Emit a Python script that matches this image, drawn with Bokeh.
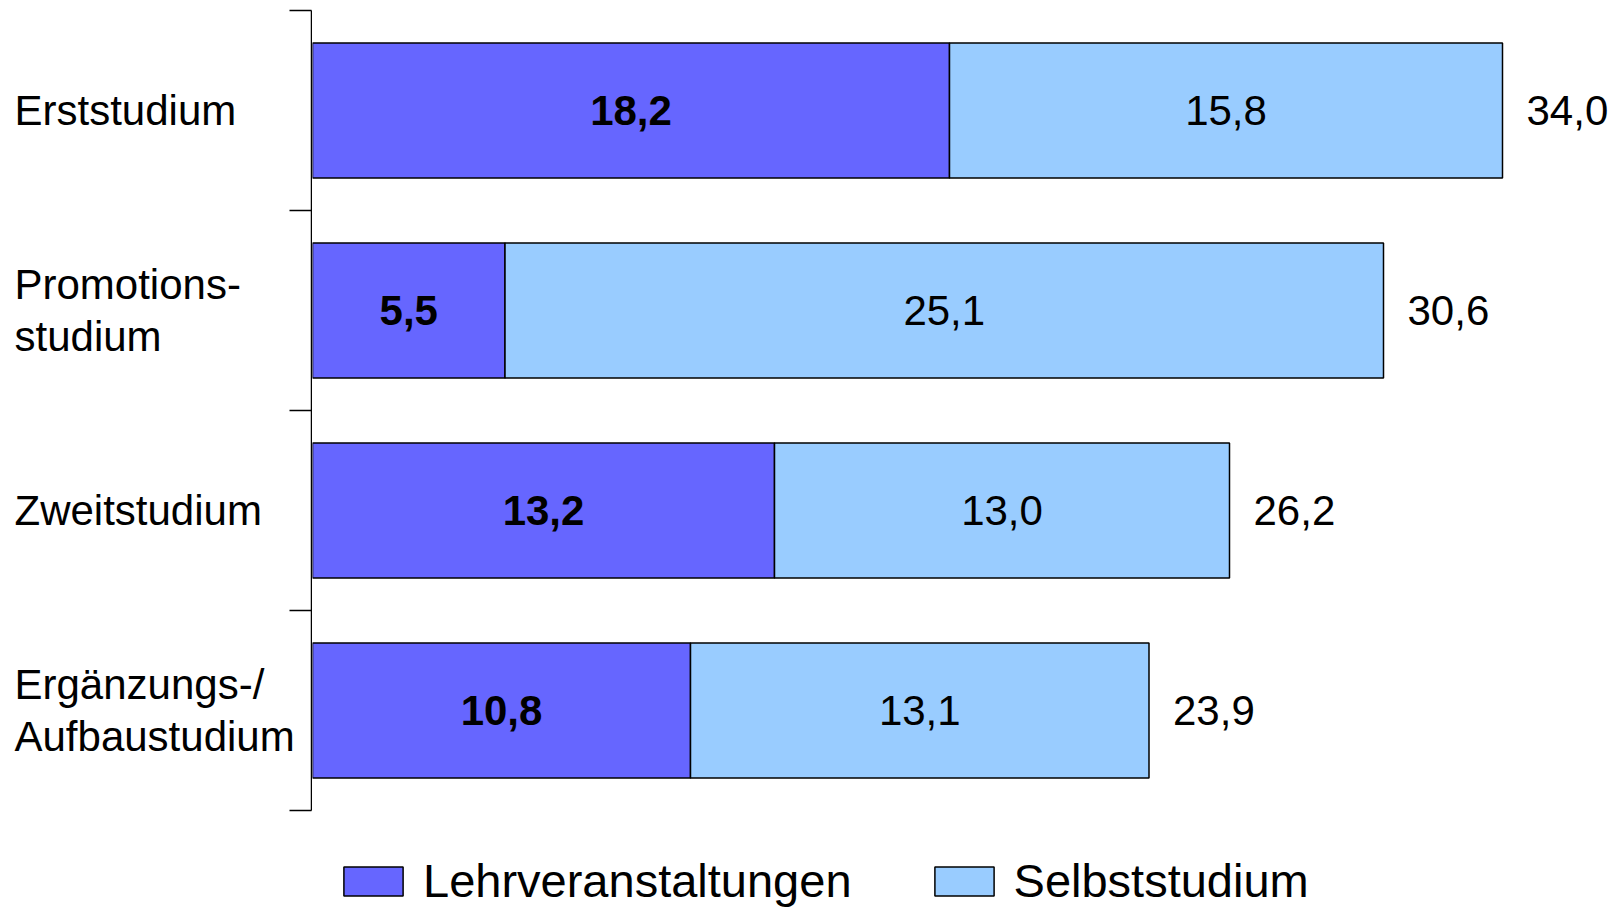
from bokeh.plotting import figure
from bokeh.layouts import row
from bokeh.models import ColumnDataSource, Range1d, LinearAxis, FixedTicker
from bokeh.core.properties import value
from bokeh.embed import file_html
from bokeh.resources import INLINE

# Weekly hours by type of study
categories = ["Erststudium", "Promotions-\nstudium", "Zweitstudium", "Ergänzungs-/\nAufbaustudium"]
lehrveranstaltungen = [18.2, 5.5, 13.2, 10.8]
selbststudium = [15.8, 25.1, 13.0, 13.1]
totals = [34.0, 30.6, 26.2, 23.9]
series_names = ["Lehrveranstaltungen", "Selbststudium"]
series_colors = ["#6666FF", "#99CCFF"]

FONT = "Liberation Sans"
TOTAL_W, TOTAL_H = 1614, 908
LABEL_W = 312


def de(v):
    return f"{v:.1f}".replace(".", ",")


ypos = [i + 0.5 for i in range(len(categories))]
src = ColumnDataSource(dict(
    y=ypos,
    cat=categories,
    lehr=lehrveranstaltungen,
    selbst=selbststudium,
    total=totals,
    lehr_mid=[v / 2 for v in lehrveranstaltungen],
    selbst_mid=[a + b / 2 for a, b in zip(lehrveranstaltungen, selbststudium)],
    lehr_txt=[de(v) for v in lehrveranstaltungen],
    selbst_txt=[de(v) for v in selbststudium],
    total_txt=[de(v) for v in totals],
))

y_range = Range1d(4.49, -0.04)

# left panel: category names and the category axis
lab = figure(
    width=LABEL_W, height=TOTAL_H,
    x_range=Range1d(0, LABEL_W - 1), y_range=y_range,
    x_axis_location=None, y_axis_location=None,
    toolbar_location=None, output_backend="svg",
    min_border_left=0, min_border_right=1, min_border_top=2, min_border_bottom=0,
)
lab.outline_line_color = None
lab.grid.visible = False

yaxis = LinearAxis(
    ticker=FixedTicker(ticks=[], minor_ticks=[0, 1, 2, 3, 4]),
    bounds=(0, 4),
    axis_line_color="black", axis_line_width=1.5,
    major_tick_line_color=None, major_tick_out=0, major_tick_in=0,
    minor_tick_in=22, minor_tick_out=0, minor_tick_line_width=1.5,
    minor_tick_line_color="black",
    major_label_standoff=0,
)
lab.add_layout(yaxis, "right")

lab.text(x=14, y="y", text="cat", source=src,
         text_align="left", text_baseline="middle", text_font=value(FONT),
         text_font_size="42px", text_line_height=1.1, text_color="black")

# right panel: stacked bars
p = figure(
    width=TOTAL_W - LABEL_W, height=TOTAL_H,
    x_range=Range1d(0, 37.2), y_range=y_range,
    x_axis_location=None, y_axis_location=None,
    toolbar_location=None, output_backend="svg",
    min_border_left=0, min_border_right=0, min_border_top=2, min_border_bottom=0,
)
p.outline_line_color = None
p.grid.visible = False

p.hbar_stack(
    ["lehr", "selbst"], y="y", height=0.675, source=src,
    fill_color=series_colors, line_color="black", line_width=1.5,
    legend_label=series_names,
)

p.text(x="lehr_mid", y="y", text="lehr_txt", source=src,
       text_align="center", text_baseline="middle", text_font=value(FONT),
       text_font_size="42px", text_font_style="bold", text_color="black")
p.text(x="selbst_mid", y="y", text="selbst_txt", source=src,
       text_align="center", text_baseline="middle", text_font=value(FONT),
       text_font_size="42px", text_color="black")
p.text(x="total", y="y", text="total_txt", source=src, x_offset=24,
       text_align="left", text_baseline="middle", text_font=value(FONT),
       text_font_size="42px", text_color="black")

lg = p.legend[0]
lg.location = (24, 0)
lg.orientation = "horizontal"
lg.label_text_font = FONT
lg.label_text_font_size = "47px"
lg.label_text_color = "black"
lg.glyph_width = 74
lg.glyph_height = 36
lg.label_standoff = 13
lg.spacing = 75
lg.padding = 0
lg.margin = 0
lg.border_line_color = None
lg.background_fill_alpha = 0

layout = row(lab, p, spacing=0)
open("out.html", "w").write(file_html(layout, INLINE))
